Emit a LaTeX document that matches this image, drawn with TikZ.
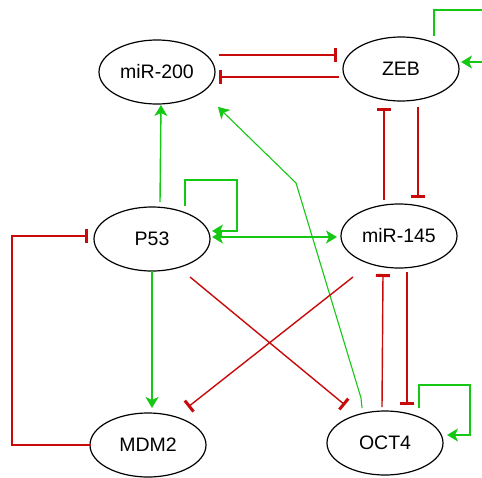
\documentclass[tikz,border=0pt]{standalone}
\usepackage{fontspec}
\setmainfont{Liberation Sans}
\usetikzlibrary{shapes.geometric,arrows.meta,calc}
\definecolor{gact}{RGB}{20,200,20}
\definecolor{rinh}{RGB}{200,10,10}
\tikzset{
  gene/.style={ellipse,draw=black,line width=1.2pt,minimum width=116pt,minimum height=64pt,inner sep=0pt,font=\fontsize{19.5}{23}\selectfont},
  gtip/.tip={Stealth[length=11pt,width=13pt,inset=3pt]},
  act/.style={draw=gact,line width=1.4pt,-gtip},
  inh/.style={draw=rinh,line width=1.4pt,-{Bar[width=14pt,line width=3pt]}},
}
\begin{document}
\begin{tikzpicture}[x=1pt,y=-1pt]
\useasboundingbox (0,0) rectangle (482,477);
\begin{scope}
\clip (0,0) rectangle (482,477);
\node[gene] (m200) at (157,72) {miR-200};
\node[gene] (zeb) at (401,69) {ZEB};
\node[gene] (p53) at (152,239) {P53};
\node[gene] (m145) at (399,236) {miR-145};
\node[gene] (mdm2) at (148,445) {MDM2};
\node[gene] (oct4) at (385,443) {OCT4};

% miR-200 -| ZEB
\draw[inh] ($(m200.center)+(62,-17)$) -- ($(zeb.center)+(-64,-14)$);
% ZEB -| miR-200
\draw[inh] ($(zeb.center)+(-62,8)$) -- ($(m200.center)+(62,5)$);
% ZEB self loop
\draw[act] ($(zeb.center)+(33,-33)$) |- (495,10) |- ($(zeb.center)+(60,-7)$);
% miR-145 -| ZEB
\draw[inh] ($(m145.center)+(-15,-36)$) -- ($(zeb.center)+(-17,39)$);
% ZEB -| miR-145
\draw[inh] ($(zeb.center)+(17,38)$) -- ($(m145.center)+(19,-38)$);
% P53 -> miR-200
\draw[act] ($(p53.center)+(8,-37)$) -- ($(m200.center)+(4,33)$);
% P53 self loop
\draw[act] ($(p53.center)+(33,-33)$) |- (237,180) |- ($(p53.center)+(60,-8)$);
% P53 <-> miR-145
\draw[act,gtip-gtip] ($(p53.center)+(60,-2)$) -- ($(m145.center)+(-62,1)$);
% OCT4 -> miR-200
\draw[act,line width=1.1pt] ($(oct4.center)+(-23,-35)$) -- ($(oct4.center)+(-24,-45)$) -- (296,183) -- ($(m200.center)+(61,35)$);
% P53 -> MDM2
\draw[act] ($(p53.center)+(0,32)$) -- ($(mdm2.center)+(4,-37)$);
% MDM2 -| P53
\draw[inh] ($(mdm2.center)+(-57,0)$) -| (12,236) -- ($(p53.center)+(-64,-3)$);
% P53 -| OCT4
\draw[inh] ($(p53.center)+(38,38)$) -- ($(oct4.center)+(-40,-38)$);
% miR-145 -| MDM2
\draw[inh] ($(m145.center)+(-46,41)$) -- ($(mdm2.center)+(40,-38)$);
% OCT4 -| miR-145
\draw[inh] ($(oct4.center)+(-3,-36)$) -- ($(m145.center)+(-16,38)$);
% miR-145 -| OCT4
\draw[inh] ($(m145.center)+(8,36)$) -- ($(oct4.center)+(22,-38)$);
% OCT4 self loop
\draw[act] ($(oct4.center)+(34,-35)$) |- (470,385) |- ($(oct4.center)+(62,-8)$);
\end{scope}
\end{tikzpicture}
\end{document}
